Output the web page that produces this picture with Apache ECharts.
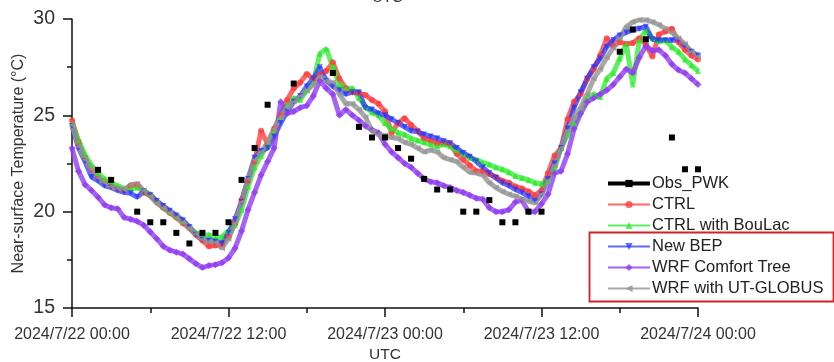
<!DOCTYPE html>
<html>
<head>
<meta charset="utf-8">
<script src="https://cdn.jsdelivr.net/npm/echarts@6/dist/echarts.min.js"></script>
<style>
  html, body { margin: 0; padding: 0; background: #fff; }
  #chart { width: 834px; height: 362px; }
</style>
</head>
<body>
<div id="chart"></div>
<script>
// Hours since 2024/7/22 00:00 UTC; model output every 30 minutes
const modelHours = [];
for (let k = 0; k <= 96; k++) modelHours.push(k / 2);
const obsHours = [];
for (let h = 0; h <= 48; h++) obsHours.push(h);

const xTickLabels = ['2024/7/22 00:00', '2024/7/22 12:00', '2024/7/23 00:00', '2024/7/23 12:00', '2024/7/24 00:00'];
const yTicks = [15, 20, 25, 30];

// Station observations (hourly, null = missing)
const obsPWK = [null, null, 22.17, 21.65, null, 20.0, 19.45, 19.45, 18.9, 18.35,
  18.9, 18.9, 19.45, 21.65, 23.3, 25.55, null, 26.65, null, null,
  27.2, null, 24.4, 23.85, 23.85, 23.3, 22.75, 21.7, 21.15, 21.15,
  20.0, 20.0, 20.6, 19.45, 19.45, 20.0, 20.0, null, null, null,
  null, null, 28.3, 29.45, 28.95, null, 23.85, 22.2, 22.2];

const ctrl = [24.75, 23.6, 22.8, 22.2, 21.8, 21.55, 21.35, 21.2, 21.1, 21.35,
  21.4, 21.0, 20.85, 20.5, 20.2, 19.95, 19.7, 19.4, 19.15, 18.8,
  18.5, 18.2, 18.25, 18.3, 18.7, 19.4, 20.6, 21.6, 22.6, 24.2,
  23.5, 24.3, 25.0, 25.8, 26.4, 26.7, 27.15, 26.9, 27.1, 27.3,
  27.75, 26.9, 26.4, 26.2, 26.15, 26.05, 25.8, 25.6, 25.2, 24.1,
  24.6, 24.85, 24.5, 24.2, 23.8, 23.7, 23.55, 23.55, 23.5, 23.0,
  22.7, 22.4, 22.1, 22.1, 21.95, 21.8, 21.6, 21.5, 21.3, 21.2,
  21.05, 20.85, 21.1, 22.0, 22.9, 23.3, 24.8, 25.7, 26.1, 26.9,
  27.4, 28.1, 29.0, 28.6, 28.8, 28.7, 28.75, 29.0, 28.7, 28.05,
  29.2, 29.35, 29.5, 28.8, 28.4, 28.1, 27.9];

const ctrlBouLac = [24.6, 23.7, 22.95, 22.4, 22.0, 21.7, 21.5, 21.35, 21.2, 21.2,
  21.25, 21.1, 20.9, 20.55, 20.25, 20.0, 19.75, 19.5, 19.2, 18.9,
  18.75, 18.8, 18.6, 18.7, 19.0, 19.3, 20.1, 21.3, 22.3, 22.9,
  23.5, 24.2, 24.9, 25.5, 25.9, 25.8, 26.3, 26.7, 28.2, 28.45,
  27.5, 26.6, 26.4, 26.4, 25.9, 25.45, 25.15, 25.0, 24.6, 24.3,
  24.1, 24.0, 23.8, 23.7, 23.6, 23.5, 23.4, 23.5, 23.4, 23.2,
  23.0, 22.8, 22.7, 22.55, 22.45, 22.3, 22.2, 22.05, 21.85, 21.75,
  21.65, 21.5, 21.45, 21.6, 22.2, 23.3, 24.0, 24.6, 25.2, 25.9,
  26.1, 25.95, 26.9, 27.2, 27.95, 28.7, 26.6, 28.9, 29.4, 29.0,
  28.85, 28.9, 28.55, 28.3, 27.9, 27.6, 27.3];

const newBEP = [24.45, 23.3, 22.6, 21.8, 21.6, 21.35, 21.25, 21.1, 21.0, 20.95,
  20.75, 21.05, 20.85, 20.55, 20.3, 20.05, 19.8, 19.55, 19.2, 18.8,
  18.55, 18.5, 18.45, 18.35, 18.9, 19.6, 20.5, 21.7, 22.8, 23.15,
  23.3, 23.9, 24.6, 25.2, 25.7, 26.0, 26.5, 26.9, 27.5, 26.8,
  26.5, 26.3, 26.1, 26.2, 26.2, 25.4, 25.3, 25.1, 25.0, 24.8,
  24.6, 24.4, 24.2, 24.15, 24.0, 23.9, 23.8, 23.65, 23.55, 23.3,
  23.05, 22.85, 22.6, 22.3, 22.0, 21.75, 21.5, 21.35, 21.15, 21.0,
  20.8, 20.55, 20.9, 21.7, 22.5, 23.3, 24.3, 25.4, 26.2, 26.9,
  27.5, 27.95, 28.55, 28.9, 29.15, 29.3, 29.45, 29.5, 29.6, 28.95,
  28.9, 28.9, 28.9, 28.9, 28.6, 28.3, 28.1];

const comfortTree = [23.3, 22.1, 21.4, 21.1, 20.75, 20.35, 20.2, 20.15, 19.7, 19.6,
  19.5, 19.3, 18.95, 18.6, 18.2, 18.0, 17.9, 17.8, 17.55, 17.3,
  17.1, 17.2, 17.25, 17.35, 17.6, 18.1, 19.0, 20.1, 21.0, 21.9,
  22.6, 23.3, 25.7, 25.1, 25.2, 25.4, 25.5, 26.0, 26.8, 26.4,
  26.1, 25.0, 25.3, 25.0, 24.75, 24.45, 24.25, 24.1, 23.5, 23.1,
  22.8, 22.5, 22.3, 22.0, 21.7, 21.55, 21.5, 21.35, 21.25, 21.1,
  21.0, 20.85, 20.7, 20.65, 20.2, 20.0, 20.0, 20.1, 20.5, 20.6,
  20.0, 20.0, 20.4, 20.9, 22.0, 22.1, 23.0, 24.3, 25.1, 25.7,
  25.9, 26.1, 26.3, 26.6, 27.0, 27.4, 27.2, 28.0, 28.6, 28.35,
  28.4, 28.1, 27.65, 27.35, 27.2, 26.9, 26.6];

const utGlobus = [24.5, 23.4, 22.7, 22.2, 21.75, 21.5, 21.3, 21.2, 21.15, 21.4,
  21.45, 21.1, 20.8, 20.45, 20.2, 19.95, 19.7, 19.45, 19.15, 18.85,
  18.55, 18.45, 18.4, 18.1, 18.6, 19.4, 20.5, 21.7, 22.7, 23.1,
  23.6, 24.3, 24.9, 25.4, 25.7, 26.0, 26.3, 26.6, 27.0, 26.8,
  26.7, 26.1, 25.6, 25.6, 25.3, 24.9, 24.2, 24.0, 23.95, 23.85,
  23.8, 23.6, 23.5, 23.3, 23.1, 23.2, 23.1, 22.8, 22.7, 22.6,
  22.3, 22.05, 22.0, 21.9, 21.5, 21.25, 21.05, 20.9, 20.8, 20.65,
  20.55, 20.45, 20.9, 21.6, 22.4, 23.3, 24.2, 24.9, 25.4, 26.1,
  26.9, 27.4, 28.0, 28.5, 29.0, 29.6, 29.85, 29.95, 29.95, 29.85,
  29.7, 29.5, 29.3, 29.0, 28.7, 28.3, 28.05];

const pairs = (xs, ys) => xs.map((x, i) => [x, ys[i]]).filter(p => p[1] !== null);

const FONT = '"Liberation Sans", Arial, sans-serif';

function modelSeries(name, values, color, symbol, rotate, size) {
  return {
    name: name,
    type: 'line',
    data: pairs(modelHours, values),
    symbol: symbol,
    symbolRotate: rotate,
    symbolSize: size,
    showSymbol: true,
    lineStyle: { color: color, width: 5 },
    itemStyle: { color: color },
    z: 2
  };
}

const chart = echarts.init(document.getElementById('chart'), null, { renderer: 'canvas' });

chart.setOption({
  animation: false,
  backgroundColor: '#fff',
  grid: { left: 72, right: 136, top: 19, bottom: 54, containLabel: false, outerBoundsMode: 'none' },
  xAxis: {
    type: 'value',
    min: 0, max: 48, interval: 12,
    name: 'UTC',
    nameLocation: 'middle',
    nameGap: 39,
    nameMoveOverlap: false,
    nameTextStyle: { fontFamily: FONT, fontSize: 15.5, color: '#333' },
    axisLine: { lineStyle: { color: '#111', width: 1.5 } },
    axisTick: { length: 9, lineStyle: { color: '#111', width: 1.5 } },
    minorTick: { show: true, splitNumber: 2, length: 5, lineStyle: { color: '#111', width: 1.5 } },
    splitLine: { show: false },
    axisLabel: {
      fontFamily: FONT, fontSize: 16, color: '#333', margin: 19,
      formatter: v => xTickLabels[Math.round(v / 12)]
    }
  },
  yAxis: {
    type: 'value',
    min: yTicks[0], max: yTicks[yTicks.length - 1], interval: 5,
    name: 'Near-surface Temperature (°C)',
    nameLocation: 'middle',
    nameGap: 45,
    nameMoveOverlap: false,
    nameTextStyle: { fontFamily: FONT, fontSize: 16, color: '#333' },
    axisLine: { show: true, lineStyle: { color: '#111', width: 1.5 } },
    axisTick: { show: true, length: 9, lineStyle: { color: '#111', width: 1.5 } },
    minorTick: { show: true, splitNumber: 2, length: 5, lineStyle: { color: '#111', width: 1.5 } },
    splitLine: { show: false },
    axisLabel: { fontFamily: FONT, fontSize: 19.5, color: '#333', margin: 17 }
  },
  legend: {
    orient: 'vertical',
    left: 601, top: 170,
    itemWidth: 42, itemHeight: 9, itemGap: 4,
    textStyle: { fontFamily: FONT, fontSize: 16.5, color: '#222', lineHeight: 16, padding: [0, 0, 0, -3] },
    data: [
      { name: 'Obs_PWK', lineStyle: { color: '#000', width: 4, opacity: 1 } },
      { name: 'CTRL' },
      { name: 'CTRL with BouLac' },
      { name: 'New BEP' },
      { name: 'WRF Comfort Tree' },
      { name: 'WRF with UT-GLOBUS' }
    ]
  },
  graphic: [
    {
      type: 'text', left: 372, top: -10, silent: true,
      style: { text: 'UTC', font: '15px ' + FONT, fill: '#333' }
    },
    {
      type: 'rect', left: 587, top: 230, silent: true,
      shape: { width: 244, height: 69 },
      style: { fill: 'none', stroke: '#d42027', lineWidth: 1.8 }
    }
  ],
  series: [
    {
      name: 'Obs_PWK',
      type: 'line',
      data: pairs(obsHours, obsPWK),
      symbol: 'rect',
      symbolSize: 6,
      lineStyle: { color: '#000', width: 4, opacity: 0 },
      itemStyle: { color: '#000' },
      z: 5
    },
    modelSeries('CTRL', ctrl, 'rgba(255,60,60,0.78)', 'circle', 0, 6),
    modelSeries('CTRL with BouLac', ctrlBouLac, 'rgba(40,235,40,0.75)', 'triangle', 0, 6),
    modelSeries('New BEP', newBEP, 'rgba(35,50,255,0.72)', 'triangle', 180, 6),
    modelSeries('WRF Comfort Tree', comfortTree, 'rgba(145,60,240,0.8)', 'diamond', 0, 7),
    modelSeries('WRF with UT-GLOBUS', utGlobus, 'rgba(150,150,150,0.82)', 'triangle', 90, 6)
  ]
});
</script>
</body>
</html>
